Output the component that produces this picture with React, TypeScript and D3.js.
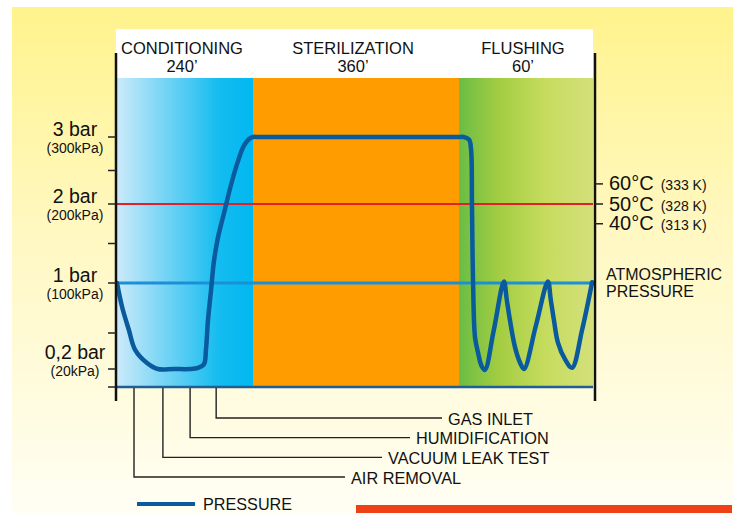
import { useEffect, useRef } from 'react';
import * as d3 from 'd3';

const phases = ['CONDITIONING', 'STERILIZATION', 'FLUSHING'];
const phaseDurations = ['240’', '360’', '60’'];
const phaseBounds = [0, 240, 600, 660];

const pressureTicks = [3, 2, 1, 0.2];
const pressureLabels = ['3 bar', '2 bar', '1 bar', '0,2 bar'];
const kpaLabels = ['(300kPa)', '(200kPa)', '(100kPa)', '(20kPa)'];
const minorTicks = [2.5, 1.5, 0.5, 0];

const tempLabels = ['60°C', '50°C', '40°C'];
const kelvinLabels = ['(333 K)', '(328 K)', '(313 K)'];
const tempBar = [2.3, 2.0, 1.75];

const steps = ['AIR REMOVAL', 'VACUUM LEAK TEST', 'HUMIDIFICATION', 'GAS INLET'];
const stepMinutes = [30, 81, 129, 175];

const pressureTime = [0, 9, 21, 32, 53, 72, 100, 130, 143, 153.5, 157, 160.6, 166, 171, 178, 189, 201, 213.5, 224, 233, 240,
  250, 590, 600, 602, 604.5, 605.4, 605.8, 606.3, 607.2, 608.6, 610, 611.6, 615.5, 620.1, 621.4, 622.8, 625.1, 627.4, 629.1,
  634.5, 639.8, 641.1, 642.5, 644.3, 647.5, 650.6, 655.1, 659.6];
const pressureBar = [1, 0.76, 0.53, 0.36, 0.25, 0.2, 0.2, 0.2, 0.21, 0.24, 0.36, 0.63, 0.93, 1.27, 1.57, 1.89, 2.28, 2.64, 2.87, 2.97, 3,
  3, 3, 3, 3, 2.96, 2.81, 2.0, 1.0, 0.46, 0.33, 0.23, 0.19, 0.52, 1.02, 0.83, 0.63, 0.38, 0.25, 0.2,
  0.58, 1.02, 0.83, 0.63, 0.42, 0.28, 0.21, 0.53, 1.01];

export default function App() {
  const ref = useRef<SVGSVGElement>(null);

  useEffect(() => {
    if (!ref.current) return;
    const svg = d3.select(ref.current);
    svg.selectAll('*').remove();
    const font = '"Liberation Sans", Arial, sans-serif';

    const x = d3.scaleLinear().domain(phaseBounds).range([117, 253, 459, 593]);
    const y = d3.scaleLinear().domain([0, 0.2, 0.5, 1, 2, 3]).range([387, 369, 333, 283, 204, 137]);
    const x0 = x(0), x1 = x(660);

    const defs = svg.append('defs');
    const grad = (id: string, stops: [number, string][], vertical = false) => {
      const g = defs.append('linearGradient').attr('id', id)
        .attr('x1', 0).attr('y1', 0).attr('x2', vertical ? 0 : 1).attr('y2', vertical ? 1 : 0);
      stops.forEach(([o, c]) => g.append('stop').attr('offset', o).attr('stop-color', c));
    };
    grad('bg', [[0, '#FFF38D'], [0.45, '#FFF8C2'], [1, '#FFFEF4']], true);
    grad('cond', [[0, '#CBEAFA'], [0.75, '#14BCF0'], [1, '#00B8F0']]);
    grad('flush', [[0, '#6ABD45'], [0.3, '#A3CD42'], [0.65, '#C6DC5E'], [1, '#D4E07B']]);

    svg.append('rect').attr('width', 742).attr('height', 513).attr('fill', '#fff');
    svg.append('rect').attr('x', 12).attr('y', 7).attr('width', 721).attr('height', 506).attr('fill', 'url(#bg)');

    // header box
    svg.append('rect').attr('x', x0 - 1).attr('y', 29).attr('width', x1 - x0 + 1).attr('height', 49).attr('fill', '#fff');

    // phase bands
    const fills = ['url(#cond)', '#FF9D00', 'url(#flush)'];
    phases.forEach((p, i) => {
      const a = x(phaseBounds[i]), b = x(phaseBounds[i + 1]);
      svg.append('rect').attr('x', a).attr('y', 78).attr('width', b - a).attr('height', y(0) - 78).attr('fill', fills[i]);
      const cx = (a + b) / 2 - 3;
      svg.append('text').attr('x', cx).attr('y', 54).attr('text-anchor', 'middle')
        .attr('font-family', font).attr('font-size', 16.5).attr('fill', '#111').text(p);
      svg.append('text').attr('x', cx).attr('y', 72).attr('text-anchor', 'middle')
        .attr('font-family', font).attr('font-size', 16.5).attr('fill', '#111').text(phaseDurations[i]);
    });

    // reference lines
    svg.append('line').attr('x1', x0).attr('x2', x1).attr('y1', y(2)).attr('y2', y(2))
      .attr('stroke', '#E51F2A').attr('stroke-width', 2);
    svg.append('line').attr('x1', x0).attr('x2', x1).attr('y1', y(1)).attr('y2', y(1))
      .attr('stroke', '#1C8FD6').attr('stroke-width', 3);
    svg.append('line').attr('x1', x0).attr('x2', x1).attr('y1', y(0)).attr('y2', y(0))
      .attr('stroke', '#1F5F96').attr('stroke-width', 2.5);

    // pressure curve
    const pts = pressureTime.map((t, i) => [x(t), y(pressureBar[i])] as [number, number]);
    const line = d3.line().curve(d3.curveCatmullRom.alpha(0.5));
    svg.append('path').attr('d', line(pts)).attr('fill', 'none').attr('stroke', '#0A5A9E')
      .attr('stroke-width', 4.5).attr('stroke-linecap', 'round').attr('stroke-linejoin', 'round');

    // axes
    [x0 - 1, x1 + 2].forEach(ax => {
      svg.append('line').attr('x1', ax).attr('x2', ax).attr('y1', 53).attr('y2', 401)
        .attr('stroke', '#111').attr('stroke-width', 2.5);
    });
    [...pressureTicks, ...minorTicks].forEach(v => {
      svg.append('line').attr('x1', x0 - 9).attr('x2', x0 - 1).attr('y1', y(v)).attr('y2', y(v))
        .attr('stroke', '#222').attr('stroke-width', 1.5);
    });
    pressureTicks.forEach((v, i) => {
      const shift = v < 0.5 ? -9 : 0;
      svg.append('text').attr('x', 75).attr('y', y(v) - 1 + shift).attr('text-anchor', 'middle')
        .attr('font-family', font).attr('font-size', 19.5).attr('fill', '#111').text(pressureLabels[i]);
      svg.append('text').attr('x', 75).attr('y', y(v) + 15.5 + shift).attr('text-anchor', 'middle')
        .attr('font-family', font).attr('font-size', 14).attr('fill', '#111').text(kpaLabels[i]);
    });

    // temperature scale on right
    tempBar.forEach((v, i) => {
      svg.append('line').attr('x1', x1 + 2).attr('x2', x1 + 10).attr('y1', y(v)).attr('y2', y(v))
        .attr('stroke', '#222').attr('stroke-width', 1.5);
      const t = svg.append('text').attr('x', 609).attr('y', y(v) + 6.5)
        .attr('font-family', font).attr('fill', '#111');
      t.append('tspan').attr('font-size', 20).text(tempLabels[i]);
      t.append('tspan').attr('font-size', 14).attr('dx', 7).text(kelvinLabels[i]);
    });
    ['ATMOSPHERIC', 'PRESSURE'].forEach((s, i) => {
      svg.append('text').attr('x', 606).attr('y', y(1) - 3 + i * 17)
        .attr('font-family', font).attr('font-size', 16).attr('fill', '#111').text(s);
    });

    // step leaders
    const row = d3.scalePoint<string>().domain(steps).range([477, 418]);
    const labelStart = [351, 388, 416, 448];
    steps.forEach((s, i) => {
      const sx = x(stepMinutes[i]);
      const ry = row(s)!;
      svg.append('path').attr('d', `M${sx},${y(0) + 1}V${ry}H${labelStart[i] - 6}`)
        .attr('fill', 'none').attr('stroke', '#222').attr('stroke-width', 1.4);
      svg.append('text').attr('x', labelStart[i]).attr('y', ry + 6.5)
        .attr('font-family', font).attr('font-size', 16.3).attr('fill', '#111').text(s);
    });

    // legend
    svg.append('line').attr('x1', 137).attr('x2', 195).attr('y1', 504).attr('y2', 504)
      .attr('stroke', '#0A5A9E').attr('stroke-width', 4);
    svg.append('text').attr('x', 203).attr('y', 509.5)
      .attr('font-family', font).attr('font-size', 16.2).attr('fill', '#111').text('PRESSURE');

    // cut-off banner at bottom right
    svg.append('rect').attr('x', 356).attr('y', 505).attr('width', 376).attr('height', 10).attr('fill', '#EE4116');
  }, []);

  return <svg ref={ref} width={742} height={513}
    style={{ position: 'absolute', left: 0, top: 0, display: 'block' }} />;
}
